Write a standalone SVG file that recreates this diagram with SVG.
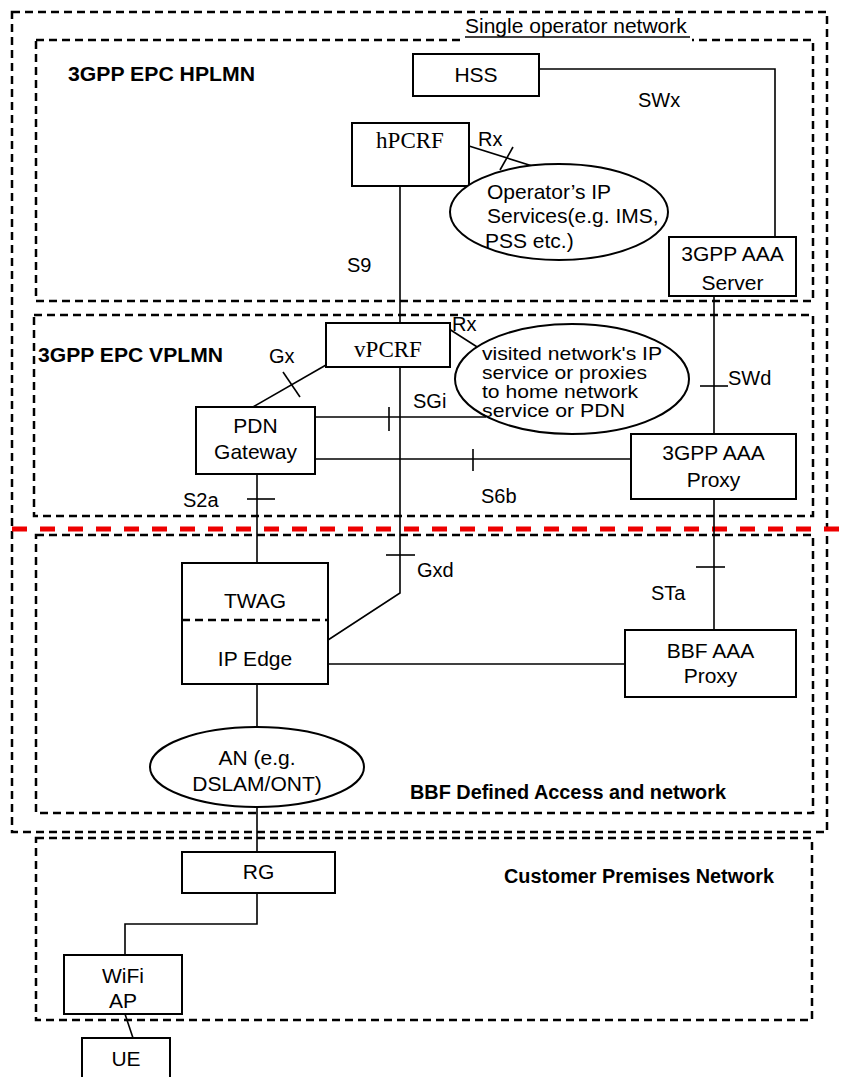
<svg xmlns="http://www.w3.org/2000/svg" width="846" height="1077" viewBox="0 0 846 1077">
<defs>
<style>
.zone{fill:none;stroke:#000;stroke-width:2.5;stroke-dasharray:8 5}
.box{fill:#fff;stroke:#000;stroke-width:2}
.ell{fill:#fff;stroke:#000;stroke-width:2}
.ln{fill:none;stroke:#000;stroke-width:1.6}
.t{font-family:"Liberation Sans",Arial,sans-serif;font-size:20px;fill:#000}
.n{font-family:"Liberation Sans",Arial,sans-serif;font-size:21px;fill:#000}
.c{text-anchor:middle}
.s{font-family:"Liberation Serif","Times New Roman",serif;font-size:23px;fill:#000;text-anchor:middle}
.b{font-family:"Liberation Sans",Arial,sans-serif;font-size:20px;font-weight:bold;fill:#000}
.v{font-family:"Liberation Sans",Arial,sans-serif;font-size:19px;fill:#000}
</style>
</defs>
<rect width="846" height="1077" fill="#fff"/>
<g id="zones">
<rect class="zone" x="12" y="12" width="815" height="820"/>
<rect class="zone" x="36" y="40" width="777" height="261"/>
<rect class="zone" x="34" y="315" width="779" height="201"/>
<rect class="zone" x="36" y="535" width="777" height="278"/>
<rect class="zone" x="36" y="838" width="776" height="182"/>
<line x1="12" y1="529" x2="846" y2="529" stroke="#e00" stroke-width="5" stroke-dasharray="15 13"/>
<rect x="462" y="15" width="230" height="27" fill="#fff"/>
<text class="n" x="465" y="33">Single operator network</text>
<line x1="465" y1="37" x2="690" y2="37" stroke="#000" stroke-width="1.5"/>
<text class="b" x="68" y="81" textLength="187" lengthAdjust="spacingAndGlyphs">3GPP EPC HPLMN</text>
<text class="b" x="38" y="362" textLength="185" lengthAdjust="spacingAndGlyphs">3GPP EPC VPLMN</text>
<text class="b" x="410" y="799" textLength="316" lengthAdjust="spacingAndGlyphs">BBF Defined Access and network</text>
<text class="b" x="504" y="883" textLength="270" lengthAdjust="spacingAndGlyphs">Customer Premises Network</text>
</g>
<g id="connectors">
<polyline class="ln" points="539,69 775,69 775,237"/>
<line class="ln" x1="400" y1="186" x2="400" y2="323"/>
<line class="ln" x1="469" y1="146" x2="545" y2="170"/>
<line class="ln" x1="513" y1="147" x2="500" y2="170"/>
<line class="ln" x1="714" y1="296" x2="714" y2="434"/>
<line class="ln" x1="700" y1="386" x2="728" y2="386"/>
<line class="ln" x1="446" y1="327" x2="485" y2="352"/>
<line class="ln" x1="253" y1="407" x2="326" y2="365"/>
<line class="ln" x1="283" y1="372" x2="300" y2="397"/>
<line class="ln" x1="315" y1="417" x2="486" y2="417"/>
<line class="ln" x1="389" y1="407" x2="389" y2="431"/>
<line class="ln" x1="315" y1="459" x2="631" y2="459"/>
<line class="ln" x1="473" y1="449" x2="473" y2="471"/>
<polyline class="ln" points="400,367 400,593 328,640"/>
<line class="ln" x1="386" y1="555" x2="415" y2="555"/>
<line class="ln" x1="257" y1="474" x2="257" y2="563"/>
<line class="ln" x1="247" y1="499" x2="275" y2="499"/>
<line class="ln" x1="328" y1="664" x2="625" y2="664"/>
<line class="ln" x1="714" y1="499" x2="714" y2="630"/>
<line class="ln" x1="696" y1="567" x2="725" y2="567"/>
<line class="ln" x1="257" y1="684" x2="257" y2="730"/>
<line class="ln" x1="257" y1="807" x2="257" y2="852"/>
<polyline class="ln" points="257,893 257,924 125,924 125,955"/>
<line class="ln" x1="125" y1="1014" x2="133" y2="1038"/>
<text class="t" x="347" y="272">S9</text>
<text class="t" x="478" y="146">Rx</text>
<text class="t" x="638" y="107">SWx</text>
<text class="t" x="728" y="385">SWd</text>
<text class="t" x="452" y="331">Rx</text>
<text class="t" x="269" y="363">Gx</text>
<text class="t" x="413" y="408">SGi</text>
<text class="t" x="481" y="503">S6b</text>
<text class="t" x="183" y="507">S2a</text>
<text class="t" x="417" y="577">Gxd</text>
<text class="t" x="651" y="600">STa</text>
</g>
<g id="hss"><rect class="box" x="413" y="54" width="126" height="42"/><text class="n c" x="476" y="82">HSS</text></g>
<g id="hpcrf"><rect class="box" x="352" y="123" width="117" height="63"/><text class="s" x="410" y="148">hPCRF</text></g>
<g id="opip"><ellipse class="ell" cx="559" cy="212" rx="109" ry="48"/>
<text class="n" x="487" y="199">Operator’s IP</text>
<text class="n" x="487" y="223">Services(e.g. IMS,</text>
<text class="n" x="485" y="248">PSS etc.)</text></g>
<g id="aaaserver"><rect class="box" x="669" y="237" width="127" height="59"/><text class="n c" x="732.5" y="261">3GPP AAA</text><text class="n c" x="732.5" y="290">Server</text></g>
<g id="vpcrf"><rect class="box" x="326" y="323" width="124" height="44"/><text class="s" x="388" y="357">vPCRF</text></g>
<g id="visited"><ellipse class="ell" cx="572" cy="379" rx="117" ry="55"/>
<text class="v" x="482" y="360" textLength="180" lengthAdjust="spacingAndGlyphs">visited network's IP</text>
<text class="v" x="482" y="379" textLength="165" lengthAdjust="spacingAndGlyphs">service or proxies</text>
<text class="v" x="482" y="398" textLength="156" lengthAdjust="spacingAndGlyphs">to home network</text>
<text class="v" x="482" y="417" textLength="143" lengthAdjust="spacingAndGlyphs">service or PDN</text></g>
<g id="pdngw"><rect class="box" x="196" y="407" width="119" height="67"/><text class="n c" x="255.5" y="433">PDN</text><text class="n c" x="255.5" y="459">Gateway</text></g>
<g id="aaaproxy"><rect class="box" x="631" y="434" width="165" height="65"/><text class="n c" x="713.5" y="460">3GPP AAA</text><text class="n c" x="713.5" y="487">Proxy</text></g>
<g id="twag"><rect class="box" x="182" y="563" width="146" height="121"/>
<line x1="182" y1="620" x2="328" y2="620" stroke="#000" stroke-width="2.5" stroke-dasharray="8 5"/>
<text class="n c" x="255" y="608">TWAG</text><text class="n c" x="255" y="666">IP Edge</text></g>
<g id="bbfproxy"><rect class="box" x="625" y="630" width="171" height="67"/><text class="n c" x="710.5" y="658">BBF AAA</text><text class="n c" x="710.5" y="683">Proxy</text></g>
<g id="an"><ellipse class="ell" cx="257" cy="767" rx="107" ry="40"/><text class="n c" x="257" y="765">AN (e.g.</text><text class="n c" x="257" y="791">DSLAM/ONT)</text></g>
<g id="rg"><rect class="box" x="182" y="852" width="153" height="41"/><text class="n c" x="258.5" y="879">RG</text></g>
<g id="wifiap"><rect class="box" x="64" y="955" width="118" height="59"/><text class="n c" x="123" y="983">WiFi</text><text class="n c" x="123" y="1008">AP</text></g>
<g id="ue"><rect class="box" x="82" y="1038" width="88" height="50"/><text class="n c" x="126" y="1066">UE</text></g>
</svg>
